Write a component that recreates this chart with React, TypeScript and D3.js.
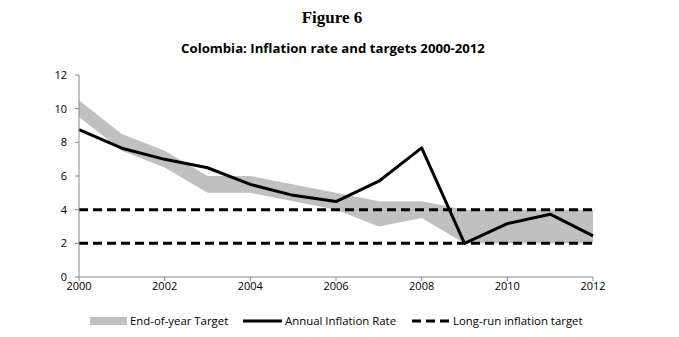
import React from "react";
import * as d3 from "d3";

const years = [2000, 2001, 2002, 2003, 2004, 2005, 2006, 2007, 2008, 2009, 2010, 2011, 2012];
const inflation = [8.75, 7.65, 6.99, 6.49, 5.5, 4.85, 4.48, 5.69, 7.67, 2.0, 3.17, 3.73, 2.44];
const targetLow = [9.5, 7.5, 6.5, 5.0, 5.0, 4.5, 4.0, 3.0, 3.5, 2.0, 2.0, 2.0, 2.0];
const targetHigh = [10.5, 8.5, 7.5, 6.0, 6.0, 5.5, 5.0, 4.5, 4.5, 4.0, 4.0, 4.0, 4.0];
const longRun = [2, 4];
const yTicks = [0, 2, 4, 6, 8, 10, 12];
const xTicks = [2000, 2002, 2004, 2006, 2008, 2010, 2012];

export default function App() {
  const W = 679, H = 337;
  const x = d3.scaleLinear().domain([2000, 2012]).range([79, 593]);
  const y = d3.scaleLinear().domain([0, 12]).range([277, 75]);
  const band = d3
    .area<number>()
    .x((_, i) => x(years[i]))
    .y0((_, i) => y(targetLow[i]))
    .y1((_, i) => y(targetHigh[i]));
  const line = d3
    .line<number>()
    .x((_, i) => x(years[i]))
    .y((d) => y(d));
  const sans = "'Open Sans', 'Noto Sans', sans-serif";
  return (
    <svg width={W} height={H} style={{ position: "absolute", left: 0, top: 0, background: "#fff" }}>
      <text x={332} y={23} textAnchor="middle" fontFamily="'Liberation Serif', serif" fontWeight="bold" fontSize={17}>
        Figure 6
      </text>
      <text x={333} y={53} textAnchor="middle" fontFamily={sans} fontWeight="bold" fontSize={13.2}>
        Colombia: Inflation rate and targets 2000-2012
      </text>
      <path d={band(years) || ""} fill="#c0c0c0" />
      {longRun.map((v) => (
        <line key={v} x1={x(2000)} x2={x(2012)} y1={y(v)} y2={y(v)} stroke="#000" strokeWidth={3} strokeDasharray="9,5" />
      ))}
      <path d={line(inflation) || ""} fill="none" stroke="#000" strokeWidth={3} strokeLinejoin="round" />
      <line x1={x(2000)} x2={x(2000)} y1={y(12)} y2={y(0)} stroke="#888" strokeWidth={1} />
      <line x1={x(2000)} x2={x(2012)} y1={y(0)} y2={y(0)} stroke="#888" strokeWidth={1} />
      {yTicks.map((t) => (
        <g key={t}>
          <line x1={x(2000) - 4} x2={x(2000)} y1={y(t)} y2={y(t)} stroke="#888" />
          <text x={x(2000) - 12} y={y(t) + 4} textAnchor="end" fontFamily={sans} fontSize={11}>
            {t}
          </text>
        </g>
      ))}
      {xTicks.map((t) => (
        <g key={t}>
          <line x1={x(t)} x2={x(t)} y1={y(0)} y2={y(0) + 4} stroke="#888" />
          <text x={x(t)} y={y(0) + 13} textAnchor="middle" fontFamily={sans} fontSize={11}>
            {t}
          </text>
        </g>
      ))}
      <rect x={90} y={317} width={37} height={8} fill="#c0c0c0" />
      <text x={130} y={325} fontFamily={sans} fontSize={11.4}>End-of-year Target</text>
      <line x1={243} x2={282} y1={321} y2={321} stroke="#000" strokeWidth={3} />
      <text x={285} y={325} fontFamily={sans} fontSize={11.4}>Annual Inflation Rate</text>
      <line x1={412} x2={449} y1={321} y2={321} stroke="#000" strokeWidth={3} strokeDasharray="9,5" />
      <text x={453} y={325} fontFamily={sans} fontSize={11.4}>Long-run inflation target</text>
    </svg>
  );
}
